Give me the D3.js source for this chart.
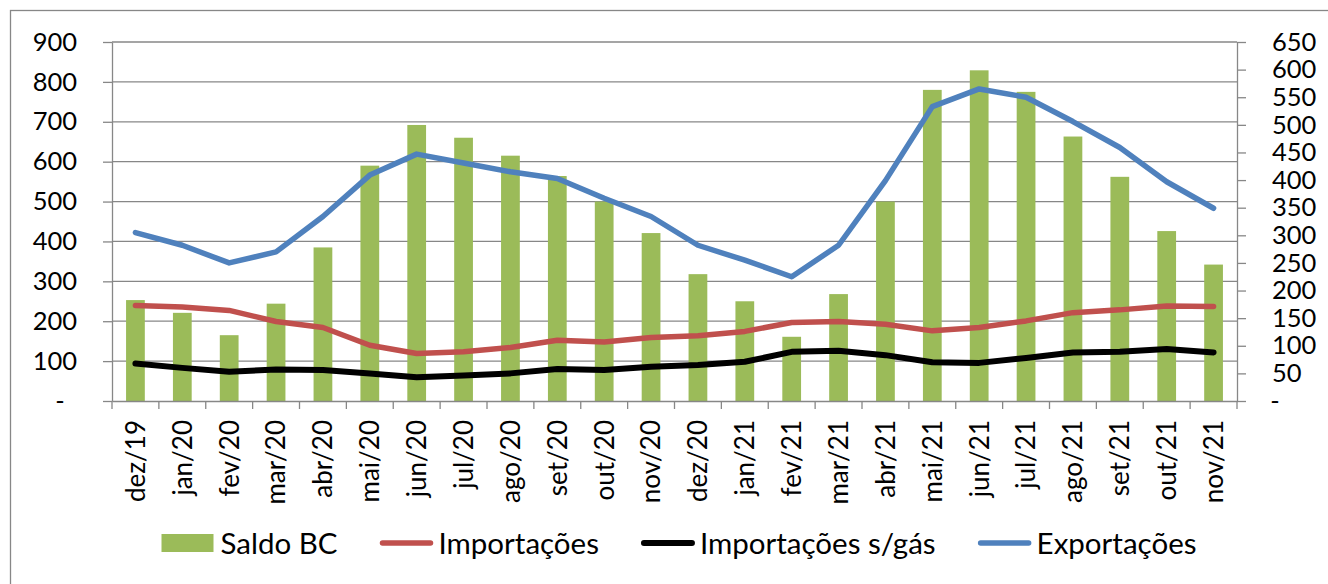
<!DOCTYPE html>
<html>
<head>
<meta charset="utf-8">
<script src="https://cdn.jsdelivr.net/npm/d3@7"></script>
<style>
  body { margin: 0; background: #fff; }
  svg text { font-family: Lato, "Open Sans", sans-serif; fill: #000; }
</style>
</head>
<body>
<div id="chart"></div>
<script>
// Months on the x axis.
var months = ['dez/19', 'jan/20', 'fev/20', 'mar/20', 'abr/20', 'mai/20', 'jun/20', 'jul/20',
    'ago/20', 'set/20', 'out/20', 'nov/20', 'dez/20', 'jan/21', 'fev/21', 'mar/21', 'abr/21',
    'mai/21', 'jun/21', 'jul/21', 'ago/21', 'set/21', 'out/21', 'nov/21'];

// Bars, left axis.
var saldoBC = [253, 221, 165, 244, 385, 590, 692, 660, 615, 564, 500, 421,
    318, 250, 161, 268, 500, 780, 829, 775, 663, 562, 426, 342];

// Lines, right axis.
var importacoes = [173, 170, 164, 144, 133, 101, 86, 89, 97, 110, 107, 115,
    118, 126, 142, 144, 139, 127, 133, 145, 160, 165, 172, 171];
var importacoesSemGas = [68, 60, 53, 57, 56, 50, 43, 46, 50, 58, 56, 62,
    65, 71, 89, 91, 83, 70, 69, 78, 88, 89, 94, 88];
var exportacoes = [305, 282, 250, 270, 334, 409, 447, 431, 415, 403, 367, 334,
    282, 255, 225, 282, 399, 533, 565, 550, 506, 459, 397, 349];

var leftTicks = [0, 100, 200, 300, 400, 500, 600, 700, 800, 900];
var rightTicks = [0, 50, 100, 150, 200, 250, 300, 350, 400, 450, 500, 550, 600, 650];

var legendNames = ['Saldo BC', 'Importações', 'Importações s/gás', 'Exportações'];

var W = 1328, H = 584;
var margin = { left: 112, right: 1237, top: 42, bottom: 401 };
var gridColor = '#878787';
var tickFont = 25.5, catFont = 26, legendFont = 29.5;

var svg = d3.select('#chart').append('svg')
    .attr('width', W)
    .attr('height', H);

// Outer chart border (runs off the right and bottom edge).
svg.append('rect')
    .attr('x', 10.5).attr('y', 10.5)
    .attr('width', W).attr('height', H)
    .attr('fill', 'none')
    .attr('stroke', gridColor)
    .attr('stroke-width', 1.3);

var x = d3.scaleBand()
    .domain(months)
    .range([margin.left, margin.right])
    .paddingInner(0.6)
    .paddingOuter(0.3);

var yL = d3.scaleLinear().domain([0, 900]).range([margin.bottom, margin.top]);
var yR = d3.scaleLinear().domain([0, 650]).range([margin.bottom, margin.top]);

function cx(d, i) { return x(months[i]) + x.bandwidth() / 2; }

// Horizontal gridlines from the left axis.
svg.append('g')
    .selectAll('line')
    .data(leftTicks.slice(1))
    .join('line')
    .attr('x1', margin.left).attr('x2', margin.right)
    .attr('y1', d => yL(d)).attr('y2', d => yL(d))
    .attr('stroke', gridColor)
    .attr('stroke-width', 1.3);

// Bars.
svg.append('g')
    .selectAll('rect')
    .data(saldoBC)
    .join('rect')
    .attr('x', (d, i) => x(months[i]))
    .attr('width', x.bandwidth())
    .attr('y', d => yL(d))
    .attr('height', d => yL(0) - yL(d))
    .attr('fill', '#9BBB59');

// Axes.
function styleAxis(g, size) {
    g.select('.domain').attr('stroke', gridColor).attr('stroke-width', 1.3);
    g.selectAll('.tick line').attr('stroke', gridColor).attr('stroke-width', 1.3);
    g.selectAll('.tick text').style('font-size', size + 'px');
}

var fmt = d => d === 0 ? '-' : d;

svg.append('g')
    .attr('transform', 'translate(' + margin.left + ',0)')
    .call(d3.axisLeft(yL).tickValues(leftTicks).tickFormat(fmt).tickSize(9).tickPadding(26).tickSizeOuter(0))
    .call(styleAxis, tickFont)
    .call(g => g.selectAll('.tick text').filter(d => d === 0)
        .attr('text-anchor', 'middle').attr('x', -52));

svg.append('g')
    .attr('transform', 'translate(' + margin.right + ',0)')
    .call(d3.axisRight(yR).tickValues(rightTicks).tickFormat(fmt).tickSize(9).tickPadding(26).tickSizeOuter(0))
    .call(styleAxis, tickFont)
    .call(g => g.selectAll('.tick text').filter(d => d === 0)
        .attr('text-anchor', 'middle').attr('x', 38));

// Category axis: ticks fall between the months.
var xAxis = svg.append('g')
    .attr('transform', 'translate(0,' + margin.bottom + ')')
    .call(d3.axisBottom(x).tickSize(0).tickSizeOuter(0).tickPadding(0))
    .call(styleAxis, catFont);

xAxis.selectAll('.tick text')
    .attr('text-anchor', 'end')
    .attr('transform', 'rotate(-90)')
    .attr('x', -19)
    .attr('y', 0)
    .attr('dy', '0.36em');

xAxis.append('g')
    .selectAll('line')
    .data(d3.range(months.length + 1))
    .join('line')
    .attr('x1', i => margin.left + i * x.step())
    .attr('x2', i => margin.left + i * x.step())
    .attr('y1', 0).attr('y2', 8)
    .attr('stroke', gridColor)
    .attr('stroke-width', 1.3);

// Lines.
var lineSeries = [
    { values: importacoes, color: '#C0504D', width: 5.5 },
    { values: importacoesSemGas, color: '#000000', width: 6 },
    { values: exportacoes, color: '#4F81BD', width: 5.5 }
];

var line = d3.line()
    .x((d, i) => cx(d, i))
    .y(d => yR(d));

svg.append('g')
    .selectAll('path')
    .data(lineSeries)
    .join('path')
    .attr('d', s => line(s.values))
    .attr('fill', 'none')
    .attr('stroke', s => s.color)
    .attr('stroke-width', s => s.width)
    .attr('stroke-linejoin', 'round')
    .attr('stroke-linecap', 'round');

// Legend, laid out from measured text widths and centred under the chart.
var legendItems = [
    { name: legendNames[0], type: 'bar', color: '#9BBB59' },
    { name: legendNames[1], type: 'line', color: '#C0504D', width: 5.5 },
    { name: legendNames[2], type: 'line', color: '#000000', width: 6 },
    { name: legendNames[3], type: 'line', color: '#4F81BD', width: 5.5 }
];
var legendY = 543;
var symW = 54, symGap = 5, itemGap = 42;

var legend = svg.append('g');
var items = legend.selectAll('g')
    .data(legendItems)
    .join('g');

items.append('text')
    .attr('y', legendY)
    .attr('dy', '0.36em')
    .style('font-size', legendFont + 'px')
    .text(d => d.name);

var widths = [];
items.select('text').each(function () { widths.push(this.getComputedTextLength()); });
var total = d3.sum(widths) + legendItems.length * (symW + symGap) + (legendItems.length - 1) * itemGap;
var cursor = 679 - total / 2;

items.each(function (d, i) {
    var g = d3.select(this);
    if (d.type === 'bar') {
        g.append('rect')
            .attr('x', cursor).attr('y', legendY - 9)
            .attr('width', symW - 2).attr('height', 18)
            .attr('fill', d.color);
    } else {
        g.append('line')
            .attr('x1', cursor + 3).attr('x2', cursor + symW - 3)
            .attr('y1', legendY).attr('y2', legendY)
            .attr('stroke', d.color)
            .attr('stroke-width', d.width)
            .attr('stroke-linecap', 'round');
    }
    g.select('text').attr('x', cursor + symW + symGap);
    cursor += symW + symGap + widths[i] + itemGap;
});
</script>
</body>
</html>
